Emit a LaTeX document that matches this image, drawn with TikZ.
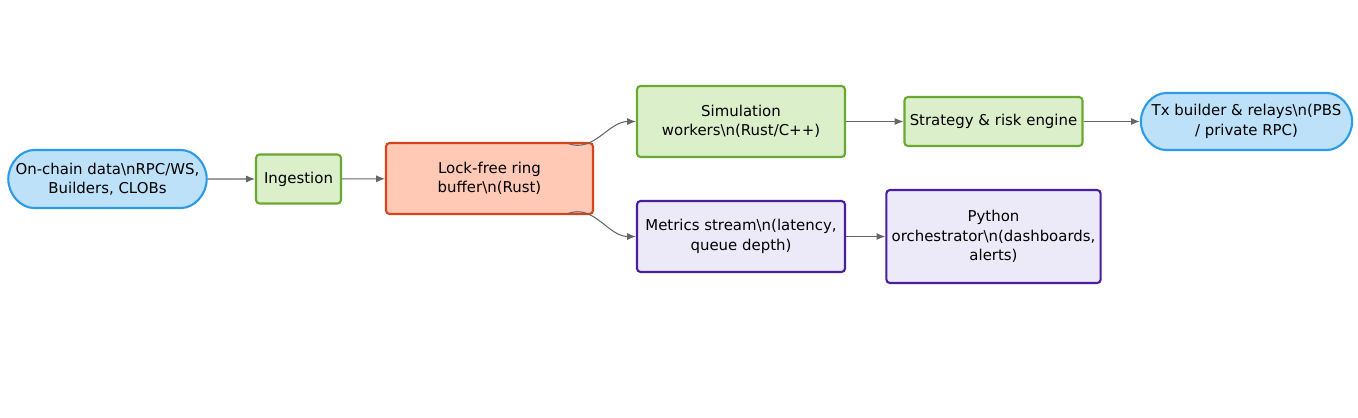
\documentclass[tikz,border=0pt]{standalone}
\usepackage{fontspec}
\setmainfont{DejaVu Sans}
\usetikzlibrary{arrows.meta,positioning,shapes.misc}
\definecolor{bluefill}{HTML}{BDE1F8}
\definecolor{blueline}{HTML}{2B9BE8}
\definecolor{greenfill}{HTML}{DCEFCB}
\definecolor{greenline}{HTML}{6BA832}
\definecolor{redfill}{HTML}{FFC9B5}
\definecolor{redline}{HTML}{D7441C}
\definecolor{purplefill}{HTML}{ECEAF8}
\definecolor{purpleline}{HTML}{4A1F9E}
\tikzset{
  box/.style={draw, line width=1.2pt, rounded corners=2pt, align=center, font=\fontsize{8.5}{11}\selectfont, inner sep=3pt},
  io/.style={box, rounded rectangle, fill=bluefill, draw=blueline},
  stage/.style={box, fill=greenfill, draw=greenline},
  core/.style={box, fill=redfill, draw=redline},
  obs/.style={box, fill=purplefill, draw=purpleline},
  flow/.style={draw=gray!80!black, line width=0.6pt, -{Latex[length=5pt,width=4pt]}}
}
\begin{document}
\begin{tikzpicture}[x=0.02cm,y=-0.02cm]
		\useasboundingbox (0,0) rectangle (1358,417);
		% Sources and ingest
		\node[io, minimum width=4.18cm, minimum height=1.16cm] (src) at (107.5,179) {On-chain data\textbackslash nRPC/WS,\\Builders, CLOBs};
		\node[stage, minimum width=1.7cm, minimum height=0.98cm] (ingest) at (298.5,179) {Ingestion};
		\node[core, minimum width=4.14cm, minimum height=1.42cm] (ring) at (489.5,178.5) {Lock-free ring\\buffer\textbackslash n(Rust)};

		% Hot path
		\node[stage, minimum width=4.16cm, minimum height=1.42cm] (sim) at (741,121.5) {Simulation\\workers\textbackslash n(Rust/C++)};
		\node[stage, minimum width=3.38cm, minimum height=0.98cm] (strat) at (993.5,121.5) {Strategy \& risk engine};
		\node[io, minimum width=4.22cm, minimum height=1.14cm] (tx) at (1246.5,121.5) {Tx builder \& relays\textbackslash n(PBS\\/ private RPC)};

		% Monitoring path
		\node[obs, minimum width=4.16cm, minimum height=1.42cm] (metrics) at (741,236.5) {Metrics stream\textbackslash n(latency,\\queue depth)};
		\node[obs, minimum width=4.14cm, minimum height=1.86cm] (py) at (993.5,236.5) {Python\\orchestrator\textbackslash n(dashboards,\\alerts)};

		% Connectors
		\draw[flow] (src) -- (ingest);
		\draw[flow] (ingest) -- (ring);
		\draw[flow] (568,143.5) to[out=-20,in=180] (sim.west);
		\draw[flow] (568,213.5) to[out=20,in=180] (metrics.west);
		\draw[flow] (sim) -- (strat);
		\draw[flow] (strat) -- (tx);
		\draw[flow] (metrics) -- (py);
\end{tikzpicture}
\end{document}
